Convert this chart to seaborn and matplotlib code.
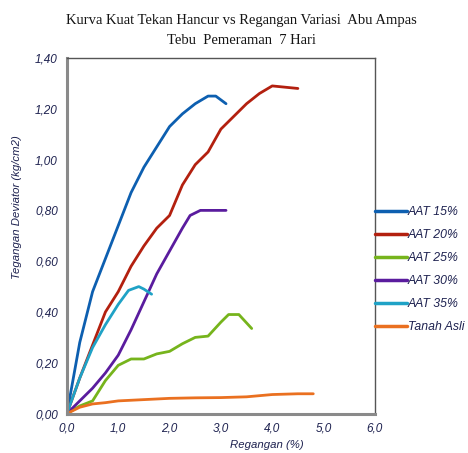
import pandas as pd
import seaborn as sns
import matplotlib.pyplot as plt
from matplotlib.ticker import FuncFormatter

# regangan (%) vs tegangan deviator (kg/cm2)
x_aat15 = [0, 0.25, 0.5, 0.75, 1.0, 1.25, 1.5, 1.75, 2.0, 2.25, 2.5, 2.75, 2.9, 3.1]
y_aat15 = [0, 0.28, 0.48, 0.61, 0.74, 0.87, 0.97, 1.05, 1.13, 1.18, 1.22, 1.25, 1.25, 1.22]

x_aat20 = [0, 0.25, 0.5, 0.75, 1.0, 1.25, 1.5, 1.75, 2.0, 2.25, 2.5, 2.75, 3.0, 3.25, 3.5, 3.75, 4.0, 4.5]
y_aat20 = [0, 0.14, 0.27, 0.40, 0.48, 0.58, 0.66, 0.73, 0.78, 0.90, 0.98, 1.03, 1.12, 1.17, 1.22, 1.26, 1.29, 1.28]

x_aat25 = [0, 0.25, 0.5, 0.75, 1.0, 1.25, 1.5, 1.75, 2.0, 2.25, 2.5, 2.75, 3.0, 3.15, 3.35, 3.6]
y_aat25 = [0, 0.03, 0.05, 0.13, 0.19, 0.215, 0.215, 0.235, 0.245, 0.275, 0.30, 0.305, 0.36, 0.39, 0.39, 0.335]

x_aat30 = [0, 0.25, 0.5, 0.75, 1.0, 1.25, 1.5, 1.75, 2.0, 2.25, 2.4, 2.6, 3.1]
y_aat30 = [0, 0.05, 0.10, 0.16, 0.23, 0.33, 0.44, 0.55, 0.64, 0.73, 0.78, 0.80, 0.80]

x_aat35 = [0, 0.25, 0.5, 0.75, 1.0, 1.2, 1.4, 1.5, 1.65]
y_aat35 = [0, 0.14, 0.26, 0.35, 0.43, 0.485, 0.50, 0.49, 0.47]

x_asli = [0, 0.25, 0.5, 0.75, 1.0, 1.5, 2.0, 2.5, 3.0, 3.5, 4.0, 4.5, 4.8]
y_asli = [0, 0.025, 0.038, 0.043, 0.05, 0.055, 0.06, 0.062, 0.063, 0.066, 0.075, 0.078, 0.078]

labels = ["AAT 15%", "AAT 20%", "AAT 25%", "AAT 30%", "AAT 35%", "Tanah Asli"]
colors = ["#0d5fb0", "#b3200f", "#76b41c", "#5a1c9e", "#1fa2c6", "#ea7020"]
title_lines = ["Kurva Kuat Tekan Hancur vs Regangan Variasi  Abu Ampas", "Tebu  Pemeraman  7 Hari"]

xs = [x_aat15, x_aat20, x_aat25, x_aat30, x_aat35, x_asli]
ys = [y_aat15, y_aat20, y_aat25, y_aat30, y_aat35, y_asli]

frames = []
for lab, x, y in zip(labels, xs, ys):
    frames.append(pd.DataFrame({"regangan": x, "tegangan": y, "seri": lab}))
df = pd.concat(frames, ignore_index=True)

sns.set_style("white")
plt.rcParams["font.family"] = ["Liberation Sans", "DejaVu Sans"]

txt_col = "#1e2250"

fig = plt.figure(figsize=(4.68, 4.53), dpi=100)
ax = fig.add_axes([0.143, 0.087, 0.658, 0.785])

sns.lineplot(data=df, x="regangan", y="tegangan", hue="seri", hue_order=labels,
             palette=colors, sort=False, estimator=None, linewidth=2.0, ax=ax)

ax.set_xlim(0, 6)
ax.set_ylim(0, 1.4)
ax.set_xticks([0, 1, 2, 3, 4, 5, 6])
ax.set_yticks([0, 0.2, 0.4, 0.6, 0.8, 1.0, 1.2, 1.4])
ax.xaxis.set_major_formatter(FuncFormatter(lambda v, p: f"{v:.1f}".replace(".", ",")))
ax.yaxis.set_major_formatter(FuncFormatter(lambda v, p: f"{v:.2f}".replace(".", ",")))
ax.tick_params(direction="inout", length=6, width=1, color="#333355",
               labelsize=8.5, labelcolor=txt_col)
for lab in ax.get_xticklabels() + ax.get_yticklabels():
    lab.set_fontstyle("italic")

for side in ["left", "bottom"]:
    ax.spines[side].set_color("#8a8a8a")
    ax.spines[side].set_linewidth(2.2)
for side in ["top", "right"]:
    ax.spines[side].set_color("#555555")
    ax.spines[side].set_linewidth(1.0)

ax.set_xlabel("Regangan (%)", fontsize=8.2, style="italic", color=txt_col)
ax.set_ylabel("Tegangan Deviator (kg/cm2)", fontsize=8.2, style="italic", color=txt_col)
ax.xaxis.set_label_coords(0.65, -0.075)
ax.yaxis.set_label_coords(-0.145, 0.58)

leg = ax.legend(loc="center left", bbox_to_anchor=(1.0, 0.404), frameon=False,
                borderaxespad=0, borderpad=0, handlelength=2.6, handletextpad=0.1,
                labelspacing=0.9, fontsize=8.8)
for t in leg.get_texts():
    t.set_fontstyle("italic")
    t.set_color(txt_col)
for h in leg.get_lines():
    h.set_linewidth(2.5)

# title in two lines, serif
fig.text(0.515, 0.955, title_lines[0], ha="center", va="center", fontsize=10.5,
         family="Liberation Serif", color="#141414")
fig.text(0.515, 0.910, title_lines[1], ha="center", va="center", fontsize=10.5,
         family="Liberation Serif", color="#141414")

fig.savefig("out.png", dpi=100)
